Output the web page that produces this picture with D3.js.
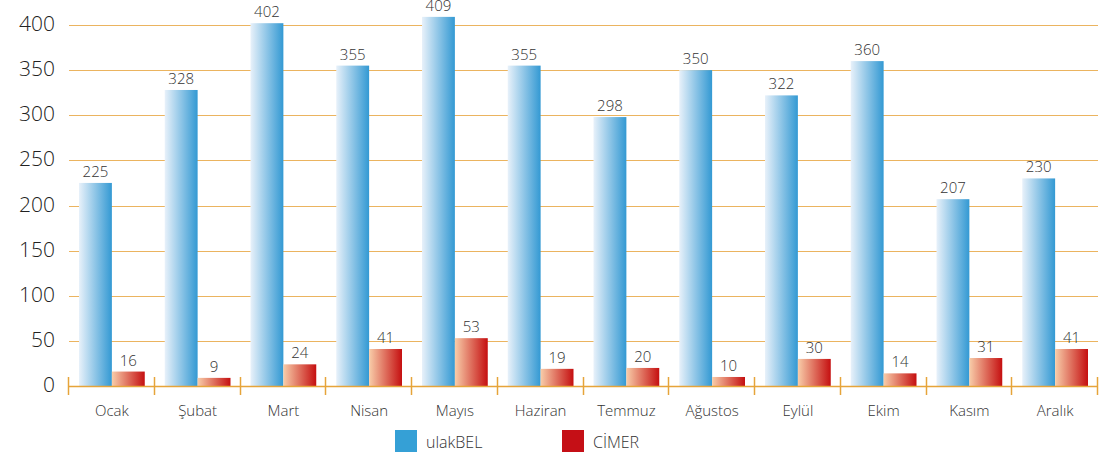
<!DOCTYPE html>
<html>
<head>
<meta charset="utf-8">
<script src="https://cdn.jsdelivr.net/npm/d3@7"></script>
<style>
  body { margin: 0; background: #fff; }
  text { font-family: "Open Sans", sans-serif; font-weight: 300; }
</style>
</head>
<body>
<div id="chart"></div>
<script>
// DATA
const months = ["Ocak", "Şubat", "Mart", "Nisan", "Mayıs", "Haziran", "Temmuz", "Ağustos", "Eylül", "Ekim", "Kasım", "Aralık"];
const ulakbel = [225, 328, 402, 355, 409, 355, 298, 350, 322, 360, 207, 230];
const cimer = [16, 9, 24, 41, 53, 19, 20, 10, 30, 14, 31, 41];
const seriesNames = ["ulakBEL", "CİMER"];
const yTicks = [0, 50, 100, 150, 200, 250, 300, 350, 400];

const width = 1115, height = 462;
const margin = { top: 25, right: 17, bottom: 76, left: 69 };
const innerWidth = width - margin.left - margin.right;
const innerHeight = height - margin.top - margin.bottom;

const svg = d3.select("#chart").append("svg")
  .attr("width", width)
  .attr("height", height);

const defs = svg.append("defs");
const blueGrad = defs.append("linearGradient").attr("id", "blueGrad");
blueGrad.append("stop").attr("offset", "0%").attr("stop-color", "#e8f1fa");
blueGrad.append("stop").attr("offset", "100%").attr("stop-color", "#3399d3");
const redGrad = defs.append("linearGradient").attr("id", "redGrad");
redGrad.append("stop").attr("offset", "0%").attr("stop-color", "#f8cda9");
redGrad.append("stop").attr("offset", "100%").attr("stop-color", "#c50f10");

const g = svg.append("g").attr("transform", `translate(${margin.left}, ${margin.top})`);

const x = d3.scaleBand().domain(months).range([0, innerWidth]).paddingInner(0).paddingOuter(0);
const x1 = d3.scaleBand().domain(seriesNames).range([10, x.bandwidth() - 10]);
const y = d3.scaleLinear().domain([0, 400]).range([innerHeight, 0]);

// grid lines
g.selectAll(".grid").data(yTicks.filter(d => d > 0)).enter().append("line")
  .attr("class", "grid")
  .attr("x1", 0).attr("x2", innerWidth)
  .attr("y1", d => Math.round(y(d)) + 0.5).attr("y2", d => Math.round(y(d)) + 0.5)
  .attr("stroke", "#ebb460")
  .attr("stroke-width", 1.2);

// y labels
g.selectAll(".ylab").data(yTicks).enter().append("text")
  .attr("class", "ylab")
  .attr("x", -14)
  .attr("y", d => y(d) + 6)
  .attr("text-anchor", "end")
  .attr("font-size", "21px")
  .attr("fill", "#222")
  .text(d => d);

const groups = g.selectAll(".month").data(months).enter().append("g")
  .attr("class", "month")
  .attr("transform", d => `translate(${x(d)}, 0)`);

groups.append("rect")
  .attr("x", x1("ulakBEL"))
  .attr("width", x1.bandwidth())
  .attr("y", (d, i) => y(ulakbel[i]))
  .attr("height", (d, i) => innerHeight - y(ulakbel[i]))
  .attr("fill", "url(#blueGrad)");

groups.append("rect")
  .attr("x", x1("CİMER"))
  .attr("width", x1.bandwidth())
  .attr("y", (d, i) => y(cimer[i]))
  .attr("height", (d, i) => innerHeight - y(cimer[i]))
  .attr("fill", "url(#redGrad)");

groups.append("text")
  .attr("x", x1("ulakBEL") + x1.bandwidth() / 2)
  .attr("y", (d, i) => y(ulakbel[i]) - 6)
  .attr("text-anchor", "middle")
  .attr("font-size", "15px")
  .attr("fill", "#333")
  .text((d, i) => ulakbel[i]);

groups.append("text")
  .attr("x", x1("CİMER") + x1.bandwidth() / 2)
  .attr("y", (d, i) => y(cimer[i]) - 6)
  .attr("text-anchor", "middle")
  .attr("font-size", "15px")
  .attr("fill", "#333")
  .text((d, i) => cimer[i]);

// x axis
const axisG = g.append("g").attr("transform", `translate(0, ${innerHeight})`);
axisG.append("line")
  .attr("x1", 0).attr("x2", innerWidth)
  .attr("y1", 0.5).attr("y2", 0.5)
  .attr("stroke", "#e6a43a").attr("stroke-width", 1.5);
axisG.selectAll(".tick").data(d3.range(months.length + 1)).enter().append("line")
  .attr("x1", i => Math.round(i * x.bandwidth()) - 0.5)
  .attr("x2", i => Math.round(i * x.bandwidth()) - 0.5)
  .attr("y1", -9).attr("y2", 9)
  .attr("stroke", "#e6a43a").attr("stroke-width", 1.5);
axisG.selectAll(".xlab").data(months).enter().append("text")
  .attr("x", d => x(d) + x.bandwidth() / 2)
  .attr("y", 30)
  .attr("text-anchor", "middle")
  .attr("font-size", "15px")
  .attr("fill", "#333")
  .text(d => d);

// legend
const legendColors = ["#35a0d6", "#c50f16"];
const legendX = [395, 562];
const legend = svg.selectAll(".legend").data(seriesNames).enter().append("g")
  .attr("class", "legend")
  .attr("transform", (d, i) => `translate(${legendX[i]}, 430)`);
legend.append("rect")
  .attr("width", 22).attr("height", 22)
  .attr("fill", (d, i) => legendColors[i]);
legend.append("text")
  .attr("x", 31).attr("y", 18)
  .attr("font-size", "16px")
  .attr("fill", "#333")
  .text(d => d);
</script>
</body>
</html>
